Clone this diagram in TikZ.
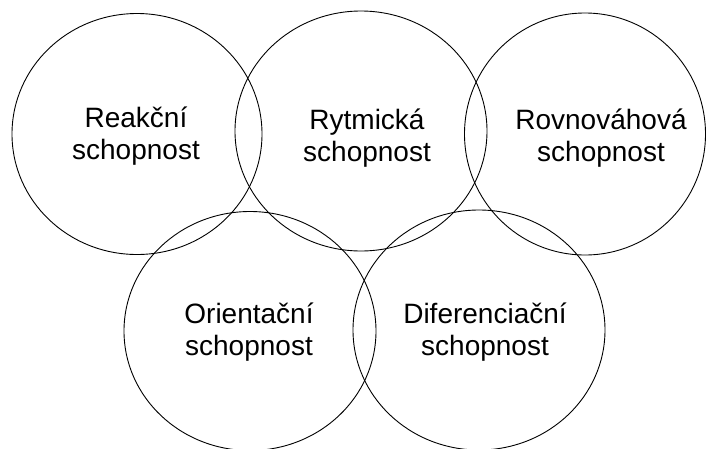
\documentclass[tikz,border=0pt]{standalone}
\usepackage{fontspec}
\setmainfont{Liberation Sans}
\usetikzlibrary{shapes.geometric}

\begin{document}
\begin{tikzpicture}[x=1pt,y=-1pt,line width=0.9pt,
ring node/.style={ellipse,draw,inner sep=0pt},
name node/.style={align=center,inner sep=0pt,font=\fontsize{28}{32}\selectfont}]

    \useasboundingbox (0,0) rectangle (707,448); \clip (0,0) rectangle (707,448);

    % rings
    \node[ring node,minimum width=250pt,minimum height=241pt] (R1) at (137,134) {};
    \node[ring node,minimum width=252pt,minimum height=240pt] (R2) at (361,131) {};
    \node[ring node,minimum width=241pt,minimum height=242pt] (R3) at (585,134) {};
    \node[ring node,minimum width=252pt,minimum height=239pt] (R4) at (250,331) {};
    \node[ring node,minimum width=252pt,minimum height=240pt] (R5) at (479,330) {};

    % texts
    \node[name node] (reakcni) at (136,136) {Reakční\\schopnost};
    \node[name node] (rytmicka) at (367,138) {Rytmická\\schopnost};
    \node[name node] (rovnovahova) at (601,138) {Rovnováhová\\schopnost};
    \node[name node] (orientacni) at (249,332) {Orientační\\schopnost};
    \node[name node] (diferenciacni) at (485,332) {Diferenciační\\schopnost};
  \end{tikzpicture}
\end{document}
